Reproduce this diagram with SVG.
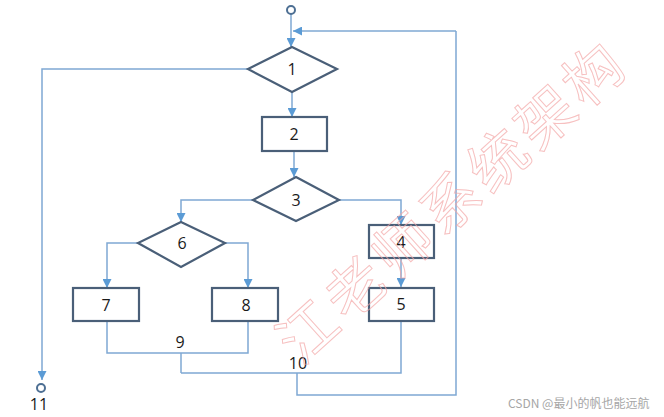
<svg xmlns="http://www.w3.org/2000/svg" width="664" height="417" viewBox="0 0 664 417">
<style>
.bg{fill:#ffffff}
.shape{fill:#ffffff;stroke:#4a5f78;stroke-width:2.2}
.lbl{font-family:"Open Sans","Liberation Sans",sans-serif;font-size:16px;fill:#1a1a1a;text-anchor:middle}
.conn path{fill:none;stroke:#7fa8d3;stroke-width:1.5}
.term{fill:#ffffff;stroke:#4d6f93;stroke-width:2}
.wm{font-family:"Noto Sans CJK SC",sans-serif;font-size:58px;fill:none;stroke:#f4a6a6;stroke-width:1;opacity:0.7;letter-spacing:6px}
.csdn{font-family:"Noto Sans CJK SC","Liberation Sans",sans-serif;font-size:12px;fill:#a6a6a6}
</style>
<defs>
<marker id="ah" viewBox="0 0 10 10" refX="10" refY="5" markerWidth="9" markerHeight="9" markerUnits="userSpaceOnUse" orient="auto">
<path d="M0,0 L10,5 L0,10 z" fill="#5b9bd5"/>
</marker>
</defs>
<rect class="bg" x="0" y="0" width="664" height="417"/>
<g id="connectors" class="conn">
<path d="M291,14 V47" marker-end="url(#ah)"/>
<path d="M456,31 H293" marker-end="url(#ah)"/>
<path d="M456,31 V395 H297 V373"/>
<path d="M292,92 V117" marker-end="url(#ah)"/>
<path d="M294,151 V177" marker-end="url(#ah)"/>
<path d="M248,69 H42 V380" marker-end="url(#ah)"/>
<path d="M339,200 H401 V225" marker-end="url(#ah)"/>
<path d="M401,258 V287" marker-end="url(#ah)"/>
<path d="M401,321 V373 H181"/>
<path d="M253,200 H181 V222" marker-end="url(#ah)"/>
<path d="M138,243 H107 V288" marker-end="url(#ah)"/>
<path d="M225,243 H248 V288" marker-end="url(#ah)"/>
<path d="M107,321 V353 H248 V321"/>
<path d="M181,353 V373"/>
</g>
<g id="start"><circle class="term" cx="291" cy="10" r="4"/></g>
<g id="n1"><polygon class="shape" points="292,47 337,69 292,92 248,69"/><text class="lbl" x="292" y="75">1</text></g>
<g id="n2"><rect class="shape" x="262" y="117" width="65" height="34"/><text class="lbl" x="294" y="140">2</text></g>
<g id="n3"><polygon class="shape" points="296,177 339,200 296,221 253,200"/><text class="lbl" x="296" y="206">3</text></g>
<g id="n4"><rect class="shape" x="369" y="225" width="65" height="33"/><text class="lbl" x="401" y="248">4</text></g>
<g id="n5"><rect class="shape" x="369" y="288" width="65" height="33"/><text class="lbl" x="401" y="310">5</text></g>
<g id="n6"><polygon class="shape" points="181,222 225,243 181,267 138,243"/><text class="lbl" x="182" y="249">6</text></g>
<g id="n7"><rect class="shape" x="73" y="288" width="66" height="33"/><text class="lbl" x="106" y="311">7</text></g>
<g id="n8"><rect class="shape" x="212" y="288" width="66" height="33"/><text class="lbl" x="246" y="311">8</text></g>
<g id="n9"><text class="lbl" x="180" y="348">9</text></g>
<g id="n10"><text class="lbl" x="298" y="369">10</text></g>
<g id="n11"><circle class="term" cx="41" cy="388" r="4"/><text class="lbl" x="39" y="410">11</text></g>
<text class="wm" x="450" y="198" text-anchor="middle" dominant-baseline="central" transform="rotate(-42 450 198)">江老师系统架构</text>
<text class="csdn" x="508" y="408">CSDN @最小的帆也能远航</text>
</svg>
